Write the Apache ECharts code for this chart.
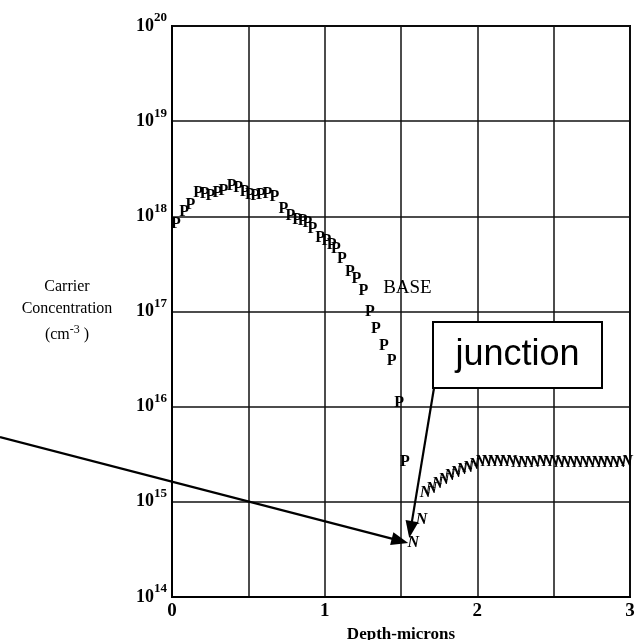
<!DOCTYPE html>
<html>
<head>
<meta charset="utf-8">
<script src="https://cdn.jsdelivr.net/npm/echarts@6/dist/echarts.min.js"></script>
<style>
  html, body { margin: 0; padding: 0; background: #fff; }
  #chart { width: 639px; height: 640px; }
</style>
</head>
<body>
<div id="chart"></div>
<script>
// Hole (P) concentration profile in the base region
const depthP = [0.026, 0.079, 0.121, 0.172, 0.213, 0.252, 0.298, 0.337, 0.390, 0.434,
                0.475, 0.510, 0.544, 0.583, 0.625, 0.671, 0.730, 0.776, 0.819, 0.855,
                0.887, 0.920, 0.971, 1.012, 1.045, 1.074, 1.113, 1.166, 1.208, 1.253,
                1.297, 1.336, 1.388, 1.439, 1.487, 1.526];
const concP = [8.3e17, 1.12e18, 1.32e18, 1.78e18, 1.73e18, 1.65e18, 1.78e18, 1.85e18, 2.1e18, 2.0e18,
               1.82e18, 1.7e18, 1.66e18, 1.7e18, 1.74e18, 1.62e18, 1.2e18, 1.0e18, 9.2e17, 8.9e17,
               8.5e17, 7.3e17, 6.0e17, 5.5e17, 5.0e17, 4.6e17, 3.6e17, 2.6e17, 2.2e17, 1.66e17,
               1.0e17, 6.6e16, 4.4e16, 3.0e16, 1.1e16, 2.6e15];

// Electron (N) concentration beyond the junction
const depthN = [1.58, 1.635,
                1.66, 1.70, 1.74, 1.78, 1.82, 1.86, 1.90, 1.94, 1.98, 2.02,
                2.06, 2.10, 2.14, 2.18, 2.22, 2.26, 2.30, 2.34, 2.38, 2.42,
                2.46, 2.50, 2.54, 2.58, 2.62, 2.66, 2.70, 2.74, 2.78, 2.82,
                2.86, 2.90, 2.94, 2.98];
const concN = [3.7e14, 6.5e14,
               1.25e15, 1.38e15, 1.55e15, 1.7e15, 1.86e15, 2.0e15, 2.15e15, 2.3e15, 2.45e15, 2.6e15,
               2.65e15, 2.65e15, 2.6e15, 2.6e15, 2.6e15, 2.55e15, 2.55e15, 2.55e15, 2.55e15, 2.6e15,
               2.6e15, 2.6e15, 2.55e15, 2.55e15, 2.55e15, 2.55e15, 2.55e15, 2.55e15, 2.55e15, 2.55e15,
               2.55e15, 2.55e15, 2.55e15, 2.6e15];

const xTickLabels = ['0', '1', '2', '3'];
const baseLabel = { text: 'BASE', depth: 1.542, conc: 1.75e17 };
const junctionLabel = 'junction';
const yAxisTitle = ['Carrier', 'Concentration'];

const SERIF = '"Liberation Serif", "Times New Roman", serif';
const SANS = '"Liberation Sans", Arial, sans-serif';

const chart = echarts.init(document.getElementById('chart'), null, { renderer: 'canvas' });

const pData = depthP.map((x, i) => [x, concP[i]]);
const nData = depthN.map((x, i) => [x, concN[i]]);

// Each point is drawn as its carrier letter, centred on the data position
const letterSeries = (name, data, glyph, italic, size) => ({
  name,
  type: 'scatter',
  data,
  symbol: 'circle',
  symbolSize: 2,
  itemStyle: { color: 'rgba(0,0,0,0)' },
  silent: true,
  label: {
    show: true,
    position: 'inside',
    formatter: glyph,
    color: '#000',
    opacity: 1,
    fontFamily: SERIF,
    fontWeight: 'bold',
    fontStyle: italic ? 'italic' : 'normal',
    fontSize: size
  },
  labelLayout: { hideOverlap: false },
  z: 5
});

chart.setOption({
  animation: false,
  backgroundColor: '#fff',
  grid: {
    left: 172, right: 9, top: 26, bottom: 43,
    outerBoundsMode: 'none',
    containLabel: false,
    show: true, borderColor: '#000', borderWidth: 2, backgroundColor: 'transparent'
  },
  xAxis: {
    type: 'value',
    min: 0, max: 3, interval: 0.5,
    name: 'Depth-microns',
    nameLocation: 'middle',
    nameGap: 26,
    nameTextStyle: { fontFamily: SERIF, fontWeight: 'bold', fontSize: 17, color: '#000' },
    axisLine: { show: true, lineStyle: { color: '#000', width: 2 } },
    axisTick: { show: false },
    axisLabel: {
      margin: 5,
      fontFamily: SERIF, fontWeight: 'bold', fontSize: 19, color: '#000',
      formatter: v => (Math.abs(v - Math.round(v)) < 1e-9 ? xTickLabels[Math.round(v)] : '')
    },
    splitLine: { show: true, lineStyle: { color: '#111', width: 1.5 } }
  },
  yAxis: {
    type: 'log',
    logBase: 10,
    min: 1e14, max: 1e20,
    axisLine: { show: true, lineStyle: { color: '#000', width: 2 } },
    axisTick: { show: false },
    axisLabel: {
      margin: 5,
      formatter: v => '{b|10}{s|' + Math.round(Math.log10(v)) + '}',
      rich: {
        b: { fontFamily: SERIF, fontWeight: 'bold', fontSize: 18, color: '#000' },
        s: { fontFamily: SERIF, fontWeight: 'bold', fontSize: 13, color: '#000', padding: [0, 0, 16, 0] }
      }
    },
    splitLine: { show: true, lineStyle: { color: '#111', width: 1.5 } }
  },
  series: [
    letterSeries('P', pData, 'P', false, 16),
    letterSeries('N', nData, 'N', true, 16)
  ]
});

// Annotations: axis title, region label, junction callout with arrows
function arrow(sx, sy, tx, ty) {
  const dx = tx - sx, dy = ty - sy;
  const len = Math.hypot(dx, dy);
  const ux = dx / len, uy = dy / len;
  const nx = -uy, ny = ux;
  const L = 17, W = 13;
  const bx = tx - ux * L, by = ty - uy * L;
  return [
    { type: 'line', shape: { x1: sx, y1: sy, x2: bx + ux * 2, y2: by + uy * 2 },
      style: { stroke: '#000', lineWidth: 2.2 }, z: 20 },
    { type: 'polygon', shape: { points: [[tx, ty], [bx + nx * W / 2, by + ny * W / 2], [bx - nx * W / 2, by - ny * W / 2]] },
      style: { fill: '#000' }, z: 21 }
  ];
}

const basePx = chart.convertToPixel({ gridIndex: 0 }, [baseLabel.depth, baseLabel.conc]);
const nPx = chart.convertToPixel({ gridIndex: 0 }, [depthN[0], concN[0]]);

const boxX = 433, boxY = 322, boxW = 169, boxH = 66;

const graphics = [
  { type: 'text', x: 67, y: 287, z: 10,
    style: { text: yAxisTitle[0], fontFamily: SERIF, fontSize: 16, fill: '#000', align: 'center', verticalAlign: 'middle' } },
  { type: 'text', x: 67, y: 309, z: 10,
    style: { text: yAxisTitle[1], fontFamily: SERIF, fontSize: 16, fill: '#000', align: 'center', verticalAlign: 'middle' } },
  { type: 'text', x: 67, y: 335, z: 10,
    style: {
      text: '{a|(cm}{e|-3}{a| )}',
      align: 'center', verticalAlign: 'middle',
      rich: {
        a: { fontFamily: SERIF, fontSize: 16, fill: '#000', color: '#000' },
        e: { fontFamily: SERIF, fontSize: 12, fill: '#000', color: '#000', padding: [0, 0, 10, 0] }
      }
    } },
  { type: 'text', x: basePx[0], y: basePx[1], z: 10,
    style: { text: baseLabel.text, fontFamily: SERIF, fontSize: 19, fill: '#000', align: 'center', verticalAlign: 'middle' } },
  { type: 'rect', shape: { x: boxX, y: boxY, width: boxW, height: boxH }, z: 15,
    style: { fill: '#fff', stroke: '#000', lineWidth: 2 } },
  { type: 'text', x: boxX + boxW / 2, y: boxY + boxH / 2, z: 16,
    style: { text: junctionLabel, fontFamily: SANS, fontSize: 36, fill: '#000', align: 'center', verticalAlign: 'middle' } }
]
  .concat(arrow(boxX + 1, boxY + boxH, nPx[0] - 4, nPx[1] - 5))
  .concat(arrow(0, 437, nPx[0] - 5, nPx[1]));

chart.setOption({ graphic: graphics });
</script>
</body>
</html>
